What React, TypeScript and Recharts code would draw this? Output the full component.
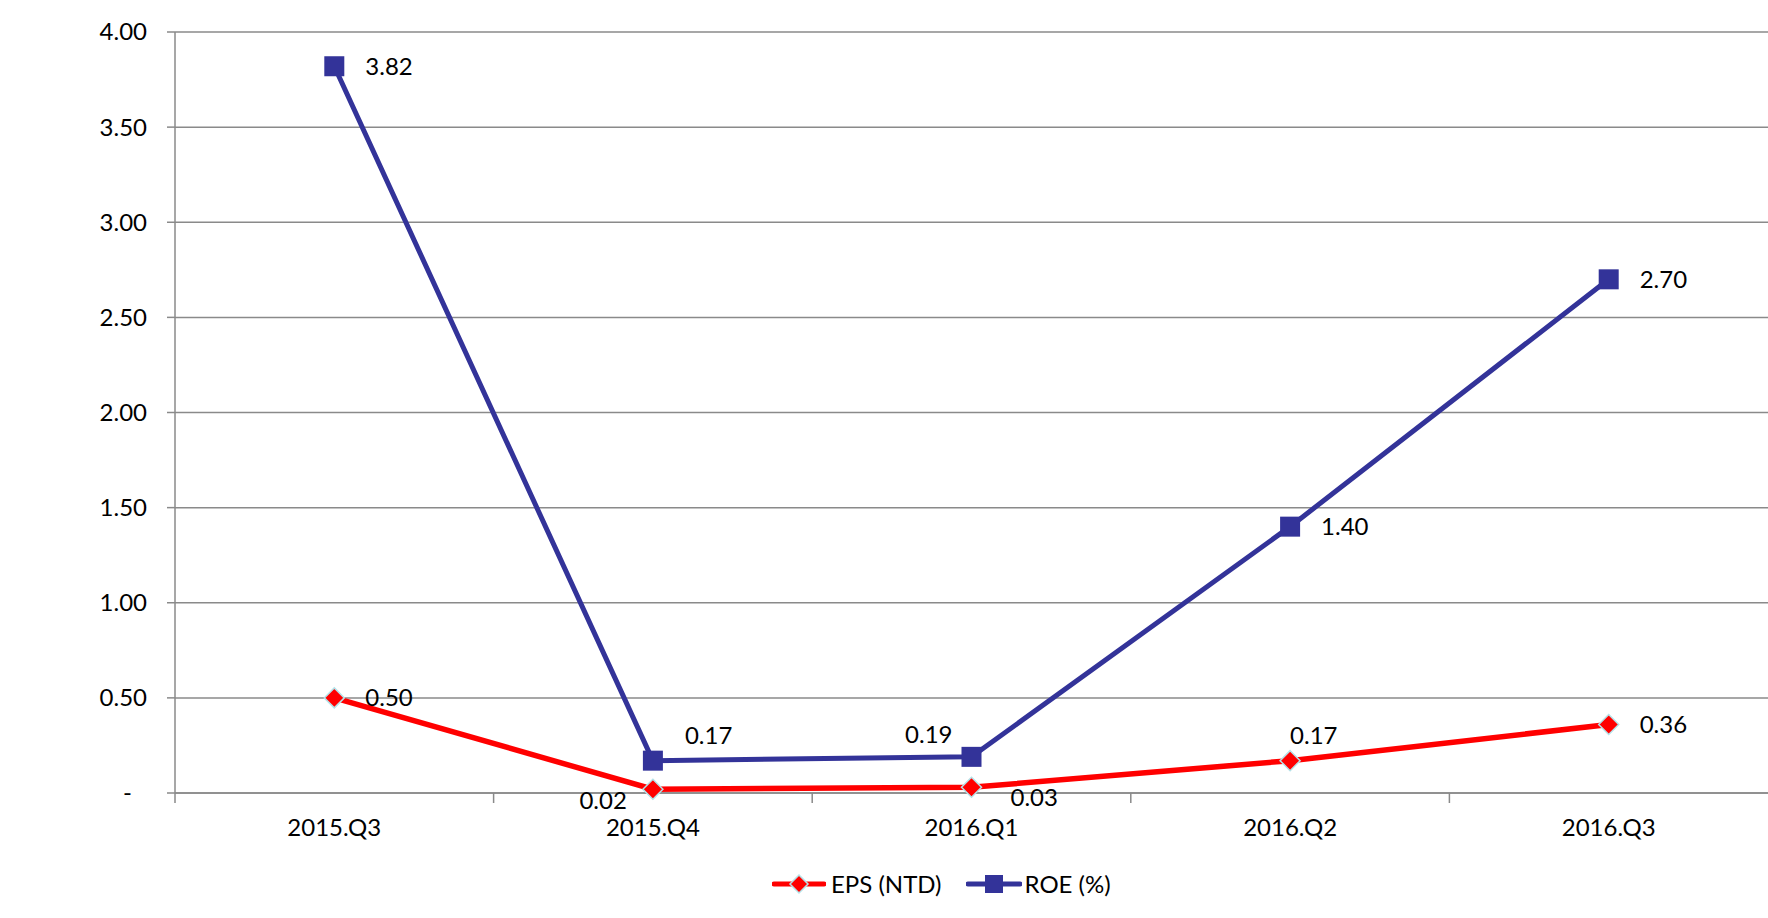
import { LineChart, Line, XAxis, YAxis, CartesianGrid, LabelList, Legend } from 'recharts';

// quarters on the x axis
const quarters = ['2015.Q3', '2015.Q4', '2016.Q1', '2016.Q2', '2016.Q3'];
const epsValues = [0.5, 0.02, 0.03, 0.17, 0.36];
const roeValues = [3.82, 0.17, 0.19, 1.4, 2.7];
const yTicks = [0, 0.5, 1, 1.5, 2, 2.5, 3, 3.5, 4];

// where each data label sits relative to its point
const epsLabelPlacement = ['right', 'belowLeft', 'belowRight', 'above', 'right'];
const roeLabelPlacement = ['right', 'aboveRight', 'aboveLeft', 'right', 'right'];

const data = quarters.map((q, i) => ({ quarter: q, eps: epsValues[i], roe: roeValues[i] }));

const WIDTH = 1768;
const HEIGHT = 918;
const Y_AXIS_W = 175;
const BAND = (WIDTH - Y_AXIS_W) / quarters.length;
const FONT = 'Lato, "Open Sans", sans-serif';
const GRID = '#8a8a8a';
const RED = '#ff0000';
const BLUE = '#333399';

const placements: Record<string, { dx: number; dy: number; anchor: 'start' | 'end' }> = {
  right: { dx: 31, dy: 0, anchor: 'start' },
  aboveRight: { dx: 32, dy: -25, anchor: 'start' },
  aboveLeft: { dx: -19, dy: -22, anchor: 'end' },
  belowLeft: { dx: -26, dy: 11, anchor: 'end' },
  belowRight: { dx: 39, dy: 10, anchor: 'start' },
  above: { dx: 0, dy: -25, anchor: 'start' },
};

const makeLabel = (placement: string[]) => (props: any) => {
  const { x, y, value, index } = props;
  const p = placements[placement[index]] || placements.right;
  return (
    <text
      x={x + p.dx}
      y={y + p.dy}
      dy="0.35em"
      textAnchor={p.anchor}
      fontSize={24}
      fontFamily={FONT}
      fill="#000"
    >
      {Number(value).toFixed(2)}
    </text>
  );
};

const SquareDot = (props: any) => {
  const { cx, cy, index } = props;
  if (cx == null || cy == null) return null;
  return <rect key={`sq-${index}`} x={cx - 10} y={cy - 10} width={20} height={20} fill={BLUE} />;
};

const DiamondDot = (props: any) => {
  const { cx, cy, index } = props;
  if (cx == null || cy == null) return null;
  const r = 10;
  return (
    <polygon
      key={`dm-${index}`}
      points={`${cx},${cy - r} ${cx + r},${cy} ${cx},${cy + r} ${cx - r},${cy}`}
      fill={RED}
      stroke="#b5e2e8"
      strokeWidth={1.5}
    />
  );
};

const XTick = (props: any) => {
  const { x, y, payload } = props;
  return (
    <g>
      <line x1={x - BAND / 2} x2={x - BAND / 2} y1={y} y2={y + 10} stroke={GRID} strokeWidth={1.5} />
      <text x={x} y={y + 43} textAnchor="middle" fontSize={24} fontFamily={FONT} fill="#000">
        {payload.value}
      </text>
    </g>
  );
};

const YTick = (props: any) => {
  const { x, y, payload } = props;
  const v = payload.value;
  return (
    <text
      x={v === 0 ? x - 35 : x - 20}
      y={y}
      dy="0.35em"
      textAnchor="end"
      fontSize={24}
      fontFamily={FONT}
      fill="#000"
    >
      {v === 0 ? '-' : v.toFixed(2)}
    </text>
  );
};

const LegendContent = () => (
  <div style={{ display: 'flex', alignItems: 'center', fontFamily: FONT, fontSize: 24, color: '#000' }}>
    <svg width={54} height={24} style={{ marginRight: 5 }}>
      <line x1={2} x2={52} y1={12} y2={12} stroke={RED} strokeWidth={5} strokeLinecap="round" />
      <polygon points="27,3 36,12 27,21 18,12" fill={RED} stroke="#b5e2e8" strokeWidth={1.5} />
    </svg>
    <span style={{ marginRight: 24 }}>EPS (NTD)</span>
    <svg width={56} height={24} style={{ marginRight: 3 }}>
      <line x1={2} x2={54} y1={12} y2={12} stroke={BLUE} strokeWidth={5} strokeLinecap="round" />
      <rect x={19} y={3} width={18} height={18} fill={BLUE} />
    </svg>
    <span>ROE (%)</span>
  </div>
);

export default function App() {
  return (
    <div style={{ position: 'absolute', left: 0, top: 0, width: WIDTH, height: HEIGHT, background: '#fff' }}>
      <LineChart
        width={WIDTH}
        height={HEIGHT}
        data={data}
        margin={{ top: 32, right: 0, left: 0, bottom: 85 }}
        style={{ fontFamily: FONT }}
      >
        <CartesianGrid vertical={false} stroke={GRID} strokeWidth={1.5} />
        <XAxis
          dataKey="quarter"
          height={40}
          padding={{ left: BAND / 2, right: BAND / 2 }}
          tickLine={false}
          tickSize={0}
          tickMargin={0}
          axisLine={{ stroke: GRID, strokeWidth: 1.5 }}
          tick={<XTick />}
          interval={0}
        />
        <YAxis
          width={Y_AXIS_W}
          domain={[0, 4]}
          ticks={yTicks}
          tickSize={8}
          tickMargin={0}
          tickLine={{ stroke: GRID, strokeWidth: 1.5 }}
          axisLine={{ stroke: GRID, strokeWidth: 1.5 }}
          tick={<YTick />}
          interval={0}
        />
        <Legend
          verticalAlign="middle"
          layout="horizontal"
          content={<LegendContent />}
          wrapperStyle={{ top: 869, left: 772, width: 'auto' }}
        />
        <Line
          dataKey="eps"
          name="EPS (NTD)"
          stroke={RED}
          strokeWidth={5.5}
          dot={<DiamondDot />}
          activeDot={false}
          isAnimationActive={false}
        >
          <LabelList dataKey="eps" content={makeLabel(epsLabelPlacement)} />
        </Line>
        <Line
          dataKey="roe"
          name="ROE (%)"
          stroke={BLUE}
          strokeWidth={5}
          dot={<SquareDot />}
          activeDot={false}
          isAnimationActive={false}
        >
          <LabelList dataKey="roe" content={makeLabel(roeLabelPlacement)} />
        </Line>
      </LineChart>
    </div>
  );
}
